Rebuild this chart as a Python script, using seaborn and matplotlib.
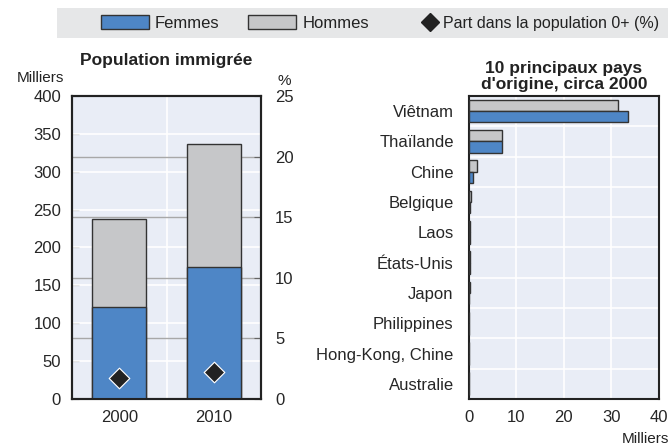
import pandas as pd
import numpy as np
import matplotlib.pyplot as plt
import seaborn as sns
from matplotlib.patches import Patch
from matplotlib.lines import Line2D

# data
years = ['2000', '2010']
femmes = [121, 174]
hommes = [116, 162]
part = [1.75, 2.2]

pays = ['Viêtnam', 'Thaïlande', 'Chine', 'Belgique', 'Laos', 'États-Unis',
        'Japon', 'Philippines', 'Hong-Kong, Chine', 'Australie']
pays_hommes = [31.5, 7.0, 1.6, 0.45, 0.25, 0.2, 0.15, 0.1, 0.08, 0.08]
pays_femmes = [33.5, 6.9, 0.9, 0.15, 0.2, 0.15, 0.1, 0.08, 0.06, 0.06]

blue = '#4e86c6'
grey = '#c6c7c9'
bg = '#e9edf6'
dark = '#222222'

sns.set_style('white')
plt.rcParams['font.family'] = ['Liberation Sans', 'DejaVu Sans']
plt.rcParams['font.size'] = 12
plt.rcParams['text.color'] = dark

fig = plt.figure(figsize=(6.68, 4.45), dpi=100)

# left chart: stacked bars
ax = fig.add_axes([0.108, 0.1034, 0.283, 0.681])
ax.set_facecolor(bg)
left = pd.DataFrame({'year': years, 'femmes': femmes,
                     'total': np.array(femmes) + np.array(hommes)})
sns.barplot(data=left, x='year', y='total', color=grey, width=0.57,
            edgecolor='#333333', linewidth=1, ax=ax, zorder=3, saturation=1)
sns.barplot(data=left, x='year', y='femmes', color=blue, width=0.57,
            edgecolor='#333333', linewidth=1, ax=ax, zorder=4, saturation=1)
ax.set_ylim(0, 400)
ax.set_xlim(-0.5, 1.5)
ax.set_yticks(range(0, 401, 50))
for v in range(50, 400, 50):
    ax.axhline(v, color='white', lw=1.2, zorder=1)
for v in range(80, 400, 80):
    ax.axhline(v, color='#a8a8a8', lw=1, zorder=1.5)
ax.axvline(0.5, color='white', lw=1.2, zorder=1)
ax.set_xticks([0.5], minor=True)
ax.set_xlabel('')
ax.set_ylabel('')
ax.tick_params(axis='y', direction='in', length=5, labelsize=12, pad=8, color='#666666')
ax.tick_params(axis='x', which='major', length=0, labelsize=12, pad=8)
ax.tick_params(axis='x', which='minor', direction='in', length=5, color='#444444')
for s in ax.spines.values():
    s.set_linewidth(1.5)
    s.set_color(dark)
ax.text(-0.17, 1.035, 'Milliers', transform=ax.transAxes, fontsize=11, ha='center', va='bottom')
ax.set_title('Population immigrée', fontsize=12.5, fontweight='bold', pad=22)

ax2 = ax.twinx()
sns.scatterplot(x=[0, 1], y=part, marker='D', s=110, color=dark, ax=ax2, zorder=5)
ax2.set_ylim(0, 25)
ax2.set_yticks(range(0, 26, 5))
ax2.tick_params(axis='y', direction='in', length=5, labelsize=12, pad=10, color='#666666')
ax2.set_ylabel('')
ax2.text(1.12, 1.025, '%', transform=ax.transAxes, fontsize=11, ha='center', va='bottom')
for s in ax2.spines.values():
    s.set_linewidth(1.5)
    s.set_color(dark)

# right chart: horizontal bars by country
axr = fig.add_axes([0.702, 0.1034, 0.284, 0.681])
axr.set_facecolor(bg)
right = pd.DataFrame({'pays': pays * 2,
                      'val': pays_hommes + pays_femmes,
                      'sexe': ['Hommes'] * len(pays) + ['Femmes'] * len(pays)})
sns.barplot(data=right, y='pays', x='val', hue='sexe', orient='h',
            palette={'Hommes': grey, 'Femmes': blue}, width=0.75,
            edgecolor='#333333', linewidth=1, ax=axr, zorder=3, saturation=1,
            legend=False)
axr.set_xlim(0, 40)
axr.set_ylim(9.5, -0.5)
axr.set_xticks(range(0, 41, 10))
for v in range(10, 40, 10):
    axr.axvline(v, color='white', lw=1.2, zorder=1)
for v in np.arange(0.5, 9.5, 1):
    axr.axhline(v, color='white', lw=1.2, zorder=1)
axr.set_yticks(np.arange(0.5, 9.5, 1), minor=True)
axr.tick_params(axis='y', which='major', length=0, labelsize=12, pad=11)
axr.tick_params(axis='y', which='minor', direction='in', length=5, color='#333333')
axr.tick_params(axis='x', direction='in', length=5, labelsize=12, pad=8, color='#333333')
axr.set_xlabel('')
axr.set_ylabel('')
for s in axr.spines.values():
    s.set_linewidth(1.5)
    s.set_color(dark)
axr.text(0.93, -0.11, 'Milliers', transform=axr.transAxes, fontsize=11, ha='center', va='top')
axr.set_title("10 principaux pays\nd'origine, circa 2000", fontsize=12.5,
              fontweight='bold', pad=5, linespacing=1.1)

# legend band
band = fig.add_axes([0.085, 0.915, 0.915, 0.068])
band.set_facecolor('#e6e7e8')
band.set_xticks([])
band.set_yticks([])
for s in band.spines.values():
    s.set_visible(False)
patches = [Patch(facecolor=blue, edgecolor='#333333', label='Femmes'),
           Patch(facecolor=grey, edgecolor='#333333', label='Hommes')]
fig.legend(handles=patches, loc='center left', bbox_to_anchor=(0.151, 0.948),
           ncol=2, frameon=False, fontsize=12, handlelength=2.9,
           handleheight=0.9, columnspacing=1.7, handletextpad=0.35,
           borderpad=0, borderaxespad=0)
diamond = [Line2D([], [], marker='D', color=dark, lw=0, markersize=9,
                  label='Part dans la population 0+ (%)')]
fig.legend(handles=diamond, loc='center left', bbox_to_anchor=(0.632, 0.948),
           frameon=False, fontsize=11.5, handlelength=1.0, handletextpad=0.3,
           borderpad=0, borderaxespad=0)

fig.savefig('out.png', dpi=100)
